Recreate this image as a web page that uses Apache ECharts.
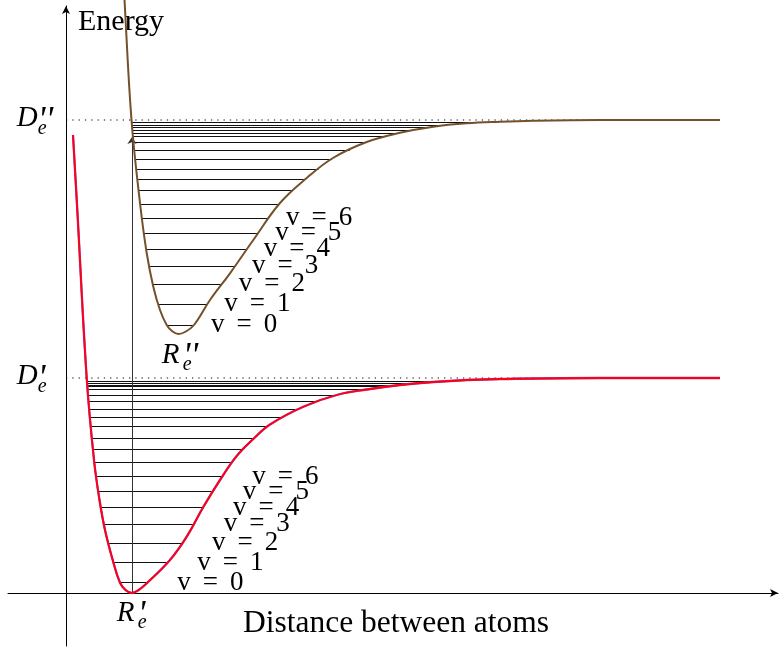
<!DOCTYPE html>
<html>
<head>
<meta charset="utf-8">
<script src="https://cdn.jsdelivr.net/npm/echarts@6/dist/echarts.min.js"></script>
<style>
  html, body { margin: 0; padding: 0; background: #fff; }
  #chart { width: 782px; height: 653px; }
</style>
</head>
<body>
<div id="chart"></div>
<script>
// Potential energy curves: [internuclear distance, energy], arbitrary drawing units
const groundCurve = [
  [7, 458], [11.3, 383], [20.7, 215], [28, 133], [33.5, 93], [39, 63],
  [46.7, 33], [54, 10.3], [59.5, 3], [65.7, 0], [72, 2.5], [80.7, 9.7],
  [104, 33], [120.7, 56.3], [137.3, 86], [154, 113], [170.7, 137],
  [187.3, 154], [204, 168.5], [237.3, 186.3], [270.7, 198], [300.7, 203.5],
  [334, 208], [367.3, 211], [400.7, 213], [434, 214], [534, 215], [654, 215]
];
const excitedCurve = [
  [58, 603], [58.5, 593], [65.5, 473], [74, 390], [80.7, 340],
  [87.3, 306.3], [94, 283], [100.7, 268], [106, 262], [112.5, 259],
  [119, 261], [128, 268], [144, 293], [164, 319.7], [187.3, 353], [214, 390],
  [240.7, 415], [267, 435], [300.7, 451], [334, 460.2],
  [367.3, 466.3], [400.7, 469.7], [434, 471.3], [467, 472.3],
  [534, 473], [654, 473]
];

// Vibrational level energies (v = 0, 1, 2, ...)
const groundLevels = [10.3, 30.3, 49.7, 68.7, 85.3, 101.3, 116.3, 130.5, 143.7,
  154.7, 166.3, 175.7, 184, 191.3, 198, 203.7, 206.3, 208, 209.7, 211.3];
const excitedLevels = [268, 288.7, 308.7, 327, 343.7, 359.7, 374.7, 389, 402.3,
  413.7, 424, 434, 443, 450.7, 456.3, 459.7, 462.3, 465.3, 467.7, 470.3];

// Dissociation energies and equilibrium distances
const groundDe = 215, excitedDe = 473;
const groundRe = 66, excitedRe = 112.5, excitedMin = 259;
const curveEnd = 654;
// Vertical transition from the ground minimum up to the excited curve
const transition = [[66, 0], [66, 456]];
const labelledLevels = 7;

const SERIF = '"Liberation Serif", "DejaVu Serif", serif';

// Where a horizontal level meets the two walls of a well
function crossings(curve, e) {
  let iMin = 0;
  curve.forEach((p, i) => { if (p[1] < curve[iMin][1]) iMin = i; });
  let left = null, right = null;
  for (let i = 0; i < iMin; i++) {
    const a = curve[i], b = curve[i + 1];
    if (e <= a[1] && e >= b[1]) { left = a[0] + (b[0] - a[0]) * (e - a[1]) / (b[1] - a[1]); break; }
  }
  for (let i = iMin; i < curve.length - 1; i++) {
    const a = curve[i], b = curve[i + 1];
    if (e >= a[1] && e <= b[1]) { right = a[0] + (b[0] - a[0]) * (e - a[1]) / (b[1] - a[1]); break; }
  }
  return [left, right];
}

function levelSegments(curve, levels) {
  return levels.map(e => {
    const [l, r] = crossings(curve, e);
    return { coords: [[l, e], [r, e]] };
  });
}

const chart = echarts.init(document.getElementById('chart'), null, { renderer: 'canvas' });

const axisCommon = {
  axisTick: { show: false },
  axisLabel: { show: false },
  splitLine: { show: false },
  axisLine: {
    onZero: true,
    symbol: ['none', 'arrow'],
    symbolSize: [6, 8],
    lineStyle: { color: '#000', width: 1 }
  }
};

const curveLine = { type: 'line', silent: true, symbol: 'none', smooth: 0.4, clip: false };

chart.setOption({
  animation: false,
  backgroundColor: '#fff',
  grid: { left: 8, right: 4, top: 6, bottom: 7, containLabel: false, outerBoundsMode: 'none' },
  xAxis: Object.assign({ type: 'value', min: -58, max: 712 }, axisCommon),
  yAxis: Object.assign({ type: 'value', min: -53, max: 587 }, axisCommon),
  series: [
    {
      type: 'lines', coordinateSystem: 'cartesian2d', silent: true,
      data: levelSegments(groundCurve, groundLevels).concat(levelSegments(excitedCurve, excitedLevels)),
      lineStyle: { color: '#111', width: 1, opacity: 1 },
      z: 1
    },
    {
      type: 'lines', coordinateSystem: 'cartesian2d', silent: true,
      data: [{ coords: transition }],
      symbol: ['none', 'arrow'], symbolSize: [6, 7],
      lineStyle: { color: '#333', width: 1, opacity: 1 },
      z: 2
    },
    {
      type: 'line', silent: true, symbol: 'none',
      data: [[0, groundDe], [curveEnd, groundDe]],
      lineStyle: { color: '#111', width: 1.1, type: [1.3, 5] },
      z: 2
    },
    {
      type: 'line', silent: true, symbol: 'none',
      data: [[0, excitedDe], [curveEnd, excitedDe]],
      lineStyle: { color: '#111', width: 1.1, type: [1.3, 5] },
      z: 2
    },
    Object.assign({ data: groundCurve, lineStyle: { color: '#9a3fa8', width: 2.3 }, z: 3 }, curveLine),
    Object.assign({ data: groundCurve, lineStyle: { color: '#ff0010', width: 1.8 }, z: 4 }, curveLine),
    Object.assign({ data: excitedCurve, lineStyle: { color: '#74502b', width: 2 }, z: 4 }, curveLine)
  ]
});

function text(str, x, baseline, size, italic) {
  return {
    type: 'text', silent: true,
    style: {
      text: str, x: x, y: baseline - 0.34 * size,
      font: (italic ? 'italic ' : '') + size + 'px ' + SERIF,
      fill: '#000', textAlign: 'left', textVerticalAlign: 'middle'
    }
  };
}

// "v = n" tags placed just right of each level's outer end
function levelTags(curve, levels, gap) {
  const F = 27;
  const tok = { fontSize: F, fontFamily: SERIF, fill: '#000' };
  return levels.slice(0, labelledLevels).map((e, v) => {
    const [, r] = crossings(curve, e);
    const p = chart.convertToPixel({ gridIndex: 0 }, [r, e]);
    return {
      type: 'text', silent: true, z: 10,
      style: {
        text: '{t|v}{eq|=}{t|' + v + '}',
        x: p[0] + gap, y: p[1],
        textAlign: 'left', textVerticalAlign: 'middle',
        fontSize: F, fontFamily: SERIF, fill: '#000',
        rich: { t: tok, eq: Object.assign({ padding: [0, 12] }, tok) }
      }
    };
  });
}

// Symbol labels (D_e, R_e) with primes and subscripts
function symbolLabel(anchor, dx, dy, letter, primes) {
  const p = chart.convertToPixel({ gridIndex: 0 }, anchor);
  const x = p[0] + dx, base = p[1] + dy;
  return [
    text(letter, x, base, 29, true),
    text(primes, x + 21, base + 5, 36, true),
    text('e', x + 21, base + 7, 20, true)
  ];
}

const origin = chart.convertToPixel({ gridIndex: 0 }, [0, 0]);
const xAxisMid = chart.convertToPixel({ gridIndex: 0 }, [(-58 + 712) / 2, 0]);
const xName = text('Distance between atoms', xAxisMid[0] + 3, origin[1] + 41, 31.5, false);
xName.style.textAlign = 'center';

chart.setOption({
  graphic: [].concat(
    [text('Energy', origin[0] + 12, 32, 30, false), xName],
    symbolLabel([0, excitedDe], -49.3, 8.3, 'D', "''"),
    symbolLabel([0, groundDe], -49.3, 8.3, 'D', "'"),
    symbolLabel([groundRe, 0], -15.3, 30, 'R', "'"),
    symbolLabel([excitedRe, excitedMin], -16.8, 31, 'R', "''"),
    levelTags(groundCurve, groundLevels, 30),
    levelTags(excitedCurve, excitedLevels, 17)
  )
});
</script>
</body>
</html>
